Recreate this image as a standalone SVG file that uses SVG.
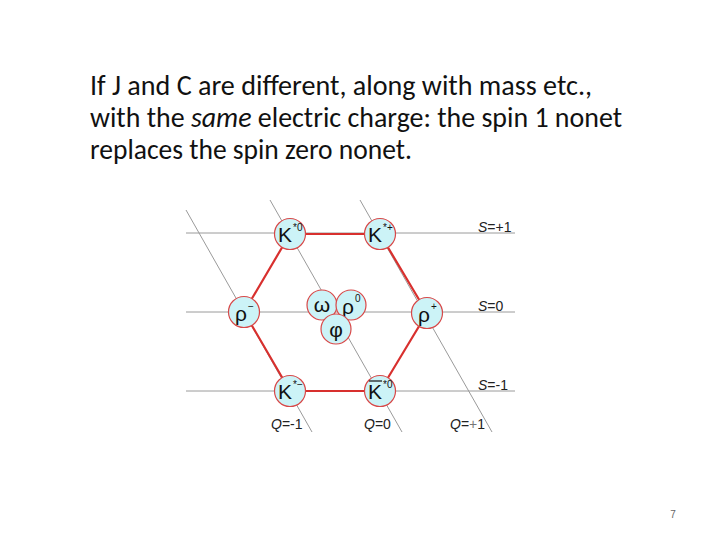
<svg xmlns="http://www.w3.org/2000/svg" width="720" height="540" viewBox="0 0 720 540">
<style>
.t{font-family:Carlito,"Open Sans","Liberation Sans",sans-serif;font-size:28px;fill:#111}
.grid{stroke:#9a9a9a;stroke-width:1;fill:none}
.hex{stroke:#d8302e;stroke-width:2.2;fill:none}
.n circle{fill:#ccf3f7;stroke:#d84848;stroke-width:1.2}
.p{font-family:"Liberation Sans",Arial,sans-serif;font-size:21px;fill:#111;text-anchor:middle}
.sup{font-family:"Liberation Sans",Arial,sans-serif;font-size:10px;fill:#111}
.lab{font-family:"Liberation Sans",Arial,sans-serif;font-size:14px;fill:#222}
</style>
<rect width="720" height="540" fill="#fff"/>
<text class="t" x="90" y="95" textLength="502" lengthAdjust="spacingAndGlyphs">If J and C are different, along with mass etc.,</text>
<text class="t" x="90" y="127" textLength="532" lengthAdjust="spacingAndGlyphs">with the <tspan font-style="italic">same</tspan> electric charge: the spin 1 nonet</text>
<text class="t" x="90" y="159" textLength="322" lengthAdjust="spacingAndGlyphs">replaces the spin zero nonet.</text>
<g id="connectors">
<line class="grid" x1="186" y1="233" x2="515" y2="233"/>
<line class="grid" x1="186" y1="312" x2="515" y2="312"/>
<line class="grid" x1="186" y1="391" x2="515" y2="391"/>
<line class="grid" x1="186" y1="210" x2="312" y2="432"/>
<line class="grid" x1="270" y1="200" x2="402" y2="432"/>
<line class="grid" x1="360" y1="200" x2="492" y2="432"/>
<polyline class="hex" points="290,234 380,234 427,313 380,391 290,391 244,312 290,234"/>
</g>
<g id="labels">
<text class="lab" x="478" y="232"><tspan font-style="italic">S</tspan>=+1</text>
<text class="lab" x="478" y="311"><tspan font-style="italic">S</tspan>=0</text>
<text class="lab" x="478" y="390"><tspan font-style="italic">S</tspan>=-1</text>
<text class="lab" x="271" y="429"><tspan font-style="italic">Q</tspan>=-1</text>
<text class="lab" x="364" y="429"><tspan font-style="italic">Q</tspan>=0</text>
<text class="lab" x="450" y="429"><tspan font-style="italic">Q</tspan>=<tspan fill="#777">+</tspan>1</text>
</g>
<g id="Kstar0" class="n"><circle cx="290" cy="234" r="15.5"/><text class="p" x="285" y="242">K</text><text class="sup" x="293" y="231">*0</text></g>
<g id="Kstarplus" class="n"><circle cx="380" cy="234" r="15.5"/><text class="p" x="375" y="242">K</text><text class="sup" x="383" y="231">*+</text></g>
<g id="rhominus" class="n"><circle cx="244" cy="312" r="15.5"/><text class="p" x="241" y="321">ρ</text><text class="sup" x="248" y="310">−</text></g>
<g id="rhoplus" class="n"><circle cx="427" cy="313" r="15.5"/><text class="p" x="424" y="322">ρ</text><text class="sup" x="431" y="310">+</text></g>
<g id="omega" class="n"><circle cx="322" cy="305" r="15"/><text class="p" x="322" y="312" font-family="Liberation Serif,serif">ω</text></g>
<g id="rho0" class="n"><circle cx="351" cy="305" r="15"/><text class="p" x="348" y="314">ρ</text><text class="sup" x="355" y="302">0</text></g>
<g id="phi" class="n"><circle cx="336" cy="329" r="15"/><text class="p" x="336" y="337">φ</text></g>
<g id="Kstarminus" class="n"><circle cx="290" cy="391" r="15.5"/><text class="p" x="285" y="399">K</text><text class="sup" x="293" y="388">*−</text></g>
<g id="Kstar0bar" class="n"><circle cx="380" cy="391" r="15.5"/><text class="p" x="375" y="399">K</text><line x1="369" y1="381" x2="382" y2="381" stroke="#111" stroke-width="1.2"/><text class="sup" x="383" y="388">*0</text></g>
<text x="673" y="518" font-family="Liberation Sans,sans-serif" font-size="10" fill="#666" text-anchor="middle">7</text>
</svg>
